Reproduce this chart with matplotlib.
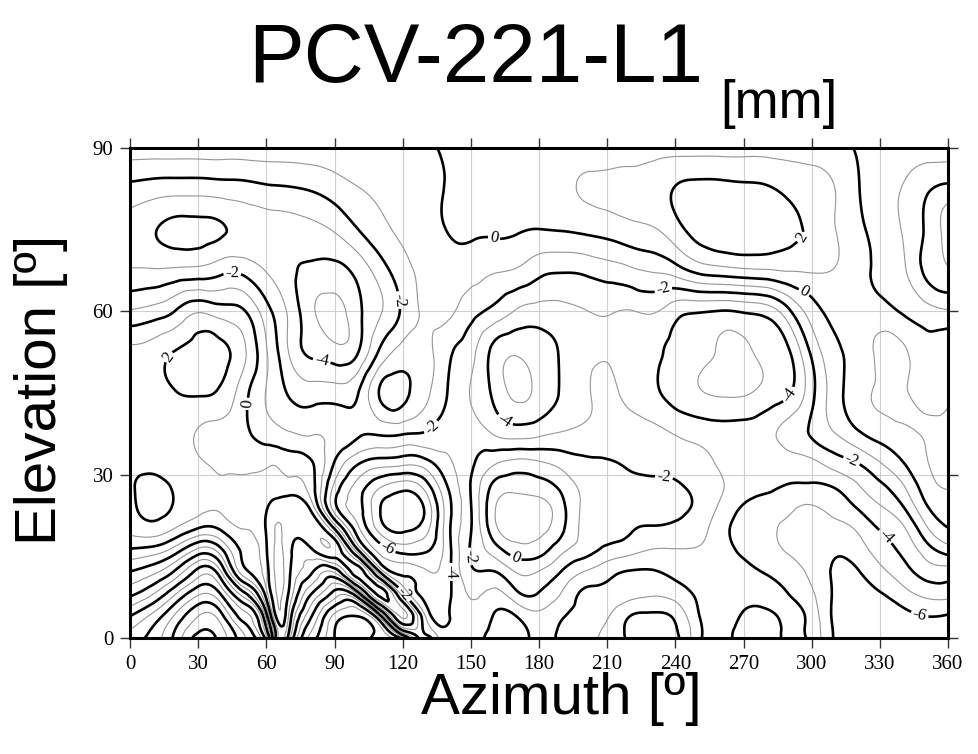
import numpy as np
import matplotlib
matplotlib.use("Agg")
import matplotlib.pyplot as plt
import matplotlib.tri as mtri

# phase centre variation grid (mm): one list per elevation row, one value per azimuth column
azimuth = [0, 10, 20, 30, 40, 50, 60, 65, 70, 80, 90, 100, 110, 120, 130, 140, 150, 160, 170, 180,
           190, 200, 210, 220, 230, 240, 250, 260, 270, 280, 290, 300, 310, 320, 330, 340, 350, 360]
elevation = [0, 4, 8, 12, 16, 20, 24, 28, 32, 37.5, 45, 52.5, 60, 67.5, 75, 82.5, 90]

pcv_el00 = [-7.5, -8.4, -10.3, -12.4, -11.6, -9.2, -5.5, 1.0, -0.5, -5.5, -8.0, -8.4, -7.8, -5.5, -1.5, -3.9, -3.6, -4.4, -4.4,
            -3.8, -4.2, -4.7, -5.3, -6.2, -6.5, -6.2, -4.3, -3.7, -4.3, -4.4, -3.8, -4.3, -6.1, -6.6, -6.8, -6.9, -7.0, -7.0]
pcv_el04 = [-6.0, -7.3, -9.2, -11.0, -10.4, -7.5, -2.5, 2.5, 0.8, -4.0, -7.3, -8.0, -4.5, 1.2, -3.0, -4.1, -3.3, -4.05, -4.0,
            -3.3, -3.9, -4.4, -4.9, -6.0, -6.2, -5.8, -4.1, -3.6, -4.1, -4.2, -3.8, -4.4, -6.2, -6.5, -6.6, -6.4, -6.0, -6.1]
pcv_el08 = [-3.8, -5.0, -7.0, -8.9, -8.0, -4.5, 0.5, 3.1, 1.8, -2.1, -4.5, -3.1, 2.3, -1.5, -4.3, -4.2, -2.9, -3.3, -2.3,
            -2.1, -3.1, -4.2, -4.3, -4.7, -4.9, -4.6, -3.8, -3.3, -3.6, -3.7, -4.0, -4.8, -6.1, -6.3, -6.1, -5.4, -4.8, -4.7]
pcv_el12 = [-2.1, -2.8, -4.3, -6.5, -5.2, -0.5, 1.6, 3.3, 2.2, 0.05, -1.0, 2.5, -1.8, -4.2, -4.8, -4.3, -2.2, -2.1, -1.0,
            -1.1, -2.1, -3.1, -3.7, -4.1, -4.1, -3.8, -3.4, -3.2, -3.6, -4.05, -4.4, -5.3, -6.1, -6.1, -5.3, -4.5, -3.6, -3.5]
pcv_el16 = [-0.2, -0.5, -1.6, -3.4, -2.4, 0.2, 1.9, 3.2, 2.3, 1.8, 2.7, -1.5, -5.3, -6.3, -6.1, -4.4, -1.9, -0.6, 0.5,
            0.4, -0.8, -1.6, -2.3, -2.7, -3.1, -3.1, -3.1, -3.5, -4.2, -4.6, -5.1, -5.5, -5.9, -5.5, -4.6, -3.8, -2.6, -1.6]
pcv_el20 = [1.3, 1.6, 0.9, -0.1, 0.1, 1.0, 2.1, 3.1, 2.5, 2.8, 0.05, -4.6, -7.4, -8.2, -7.4, -4.3, -2.05, 0.6, 1.5,
            1.3, 0.2, -1.3, -1.6, -1.9, -2.1, -2.2, -2.6, -3.6, -4.4, -4.8, -5.2, -5.5, -5.4, -4.9, -3.95, -3.2, -1.3, -0.05]
pcv_el24 = [1.75, 2.3, 1.9, 1.3, 1.1, 1.3, 1.9, 2.5, 2.7, 1.5, -3.6, -5.6, -7.95, -8.7, -7.8, -4.4, -2.05, 0.8, 1.6,
            1.4, 0.3, -1.2, -1.4, -1.6, -1.7, -1.8, -2.2, -3.2, -4.1, -4.5, -4.8, -5.1, -4.6, -3.95, -3.1, -2.1, -0.2, 0.5]
pcv_el28 = [1.8, 2.3, 1.85, 1.35, 1.05, 1.15, 1.3, 1.3, 1.3, 0.4, -3.2, -5.3, -6.8, -7.5, -6.5, -3.9, -1.95, 0.2, 0.6,
            0.4, -0.3, -1.3, -1.5, -1.7, -1.8, -1.9, -2.3, -2.9, -3.5, -3.8, -4.05, -4.1, -3.9, -3.1, -2.2, -1.1, 0.5, 1.1]
pcv_el32 = [1.6, 1.7, 1.5, 1.15, 0.85, 0.8, 0.9, 0.9, 0.6, 0.1, -2.1, -3.9, -4.6, -4.8, -4.5, -3.2, -2.2, -1.1, -0.6,
            -0.8, -1.3, -1.8, -1.9, -2.1, -2.2, -2.3, -2.7, -3.1, -3.4, -3.6, -3.5, -3.3, -2.6, -2.05, -1.1, -0.1, 0.9, 1.3]
pcv_el37 = [1.3, 1.4, 1.4, 0.9, 0.6, 0.3, -0.5, -0.7, -0.9, -1.05, -1.2, -1.85, -1.9, -1.95, -2.1, -2.6, -2.5, -3.05, -3.4,
            -3.2, -2.9, -2.7, -2.5, -2.4, -2.6, -3.05, -3.3, -3.5, -3.5, -3.3, -2.6, -1.9, -1.05, -0.2, 0.4, 0.8, 1.05, 1.2]
pcv_el45 = [1.5, 1.6, 1.95, 2.1, 1.8, 0.4, -1.05, -1.6, -2.1, -2.5, -2.5, -2.1, 0.1, 0.3, -0.7, -2.05, -3.05, -4.2, -5.2,
            -4.7, -3.9, -3.2, -2.8, -3.3, -3.8, -4.4, -4.9, -5.1, -5.1, -4.7, -4.1, -2.3, -0.5, 0.6, 1.1, 1.1, 0.7, 0.8]
pcv_el52 = [1.3, 1.5, 2.05, 2.4, 2.3, 1.2, -0.9, -1.95, -3.05, -4.2, -4.6, -4.1, -1.8, -0.6, -0.6, -1.8, -2.7, -4.3, -4.9,
            -4.5, -3.9, -3.3, -3.1, -3.4, -3.8, -4.3, -4.8, -5.1, -5.2, -4.8, -4.1, -1.8, -0.3, 0.5, 1.2, 1.2, 0.4, 0.6]
pcv_el60 = [-0.9, -0.6, 0.05, 0.9, 0.5, 0.1, -1.6, -2.4, -3.2, -4.8, -5.4, -4.3, -3.1, -1.8, -0.8, -0.8, -1.6, -2.3, -3.1,
            -3.4, -3.3, -3.05, -2.9, -3.05, -2.9, -3.6, -3.9, -4.05, -3.9, -3.6, -2.2, -0.5, 0.3, 0.5, 0.4, -0.1, -0.6, -0.9]
pcv_el67 = [-2.9, -2.9, -2.8, -2.7, -2.3, -2.3, -3.05, -3.4, -3.8, -4.2, -4.3, -3.7, -2.5, -1.4, -0.7, -0.5, -0.6, -0.9, -1.1,
            -1.7, -1.9, -1.8, -1.5, -1.2, -0.9, -0.5, 0.3, 0.6, 0.8, 0.9, 1.05, 1.1, 0.95, 0.4, -0.2, -0.8, -2.2, -2.9]
pcv_el75 = [-3.5, -3.9, -4.3, -4.3, -4.1, -3.7, -3.5, -3.5, -3.5, -3.3, -2.9, -2.05, -1.3, -0.8, -0.5, 0.05, 0.15, 0.15, 0.1,
            -0.02, 0.05, 0.2, 0.4, 0.7, 0.9, 1.6, 2.4, 2.7, 2.7, 2.5, 2.2, 1.8, 1.05, 0.3, -0.4, -1.05, -2.1, -3.5]
pcv_el82 = [-2.3, -2.5, -2.6, -2.6, -2.5, -2.4, -2.2, -2.15, -2.1, -1.9, -1.5, -1.05, -0.8, -0.6, -0.3, 0.05, 0.2, 0.3, 0.4,
            0.5, 0.75, 1.1, 1.2, 1.3, 1.5, 2.05, 2.3, 2.3, 2.2, 2.1, 1.8, 1.5, 1.02, 0.1, -0.5, -1.05, -1.8, -2.3]
pcv_el90 = [-0.45, -0.45, -0.45, -0.45, -0.45, -0.45, -0.45, -0.45, -0.45, -0.45, -0.45, -0.4, -0.35, -0.25, -0.1, 0.1, 0.3,
            0.4, 0.45, 0.5, 0.55, 0.55, 0.6, 0.6, 0.6, 0.6, 0.6, 0.6, 0.6, 0.6, 0.55, 0.45, 0.3, -0.05, -0.3, -0.4, -0.45, -0.45]

pcv = np.array([pcv_el00, pcv_el04, pcv_el08, pcv_el12, pcv_el16, pcv_el20, pcv_el24, pcv_el28, pcv_el32,
                pcv_el37, pcv_el45, pcv_el52, pcv_el60, pcv_el67, pcv_el75, pcv_el82, pcv_el90])

# label anchors (azimuth, elevation) for the annotated contours
label_spots = [(45, 67), (117, 62), (19, 51), (84, 50), (52, 43), (160, 73), (235, 63.5),
               (298, 73), (298, 64.5), (286, 46), (165, 40), (132, 39), (236, 33), (318, 33),
               (336, 20), (151, 15), (169, 14), (114, 17), (135, 12), (122, 8.5), (346, 2)]

# triangulate the grid (cells split along the "\" diagonal) and smooth with a cubic interpolator
A, E = np.meshgrid(azimuth, elevation)
ncol = len(azimuth)
tris = []
for i in range(len(elevation) - 1):
    for j in range(ncol - 1):
        k = i * ncol + j
        tris.append([k, k + 1, k + ncol])
        tris.append([k + 1, k + ncol + 1, k + ncol])
tri = mtri.Triangulation(A.ravel().astype(float), E.ravel().astype(float), tris)
interp = mtri.CubicTriInterpolator(tri, pcv.ravel(), kind='min_E')

az_f, el_f = np.meshgrid(np.linspace(0, 360, 721), np.linspace(0, 90, 361))
field = interp(az_f, el_f)

fig = plt.figure(figsize=(9.79, 7.54), dpi=100)
ax = fig.add_axes([130 / 979, 1 - 638 / 754, 818 / 979, 490 / 754])

for a in range(30, 360, 30):
    ax.axvline(a, color='#cfcfcf', lw=0.8, zorder=0)
for e in (30, 60):
    ax.axhline(e, color='#cfcfcf', lw=0.8, zorder=0)

thin = ax.contour(az_f, el_f, field, levels=np.arange(-13, 6, 2), colors='#959595',
                  linewidths=0.8, negative_linestyles='solid')
thick = ax.contour(az_f, el_f, field, levels=np.arange(-12, 6, 2), colors='black',
                   linewidths=1.9, negative_linestyles='solid')

with plt.rc_context({'font.family': 'Liberation Serif'}):
    ax.clabel(thick, fontsize=12, fmt='%d', inline=True, inline_spacing=2, manual=label_spots)

ax.set_xlim(0, 360)
ax.set_ylim(0, 90)
ax.set_xticks(range(0, 361, 30))
ax.set_yticks([0, 30, 60, 90])
ax.tick_params(direction='out', length=7, width=1, top=True, right=True, pad=5,
               labelsize=15, color='#333333')
for lab in ax.get_xticklabels() + ax.get_yticklabels():
    lab.set_fontfamily('Liberation Serif')
for sp in ax.spines.values():
    sp.set_linewidth(2.2)

ax.set_xlabel('Azimuth [º]', fontsize=42, family='Liberation Sans')
ax.set_ylabel('Elevation [º]', fontsize=42, family='Liberation Sans')
ax.xaxis.set_label_coords(0.527, -0.07)
ax.yaxis.set_label_coords(-0.076, 0.506)

fig.text(476 / 979, 1 - 82 / 754, 'PCV-221-L1', fontsize=60, family='Liberation Sans',
         ha='center', va='baseline')
fig.text(720 / 979, 1 - 118 / 754, '[mm]', fontsize=38, family='Liberation Sans',
         ha='left', va='baseline')

fig.savefig('out.png', dpi=100)
